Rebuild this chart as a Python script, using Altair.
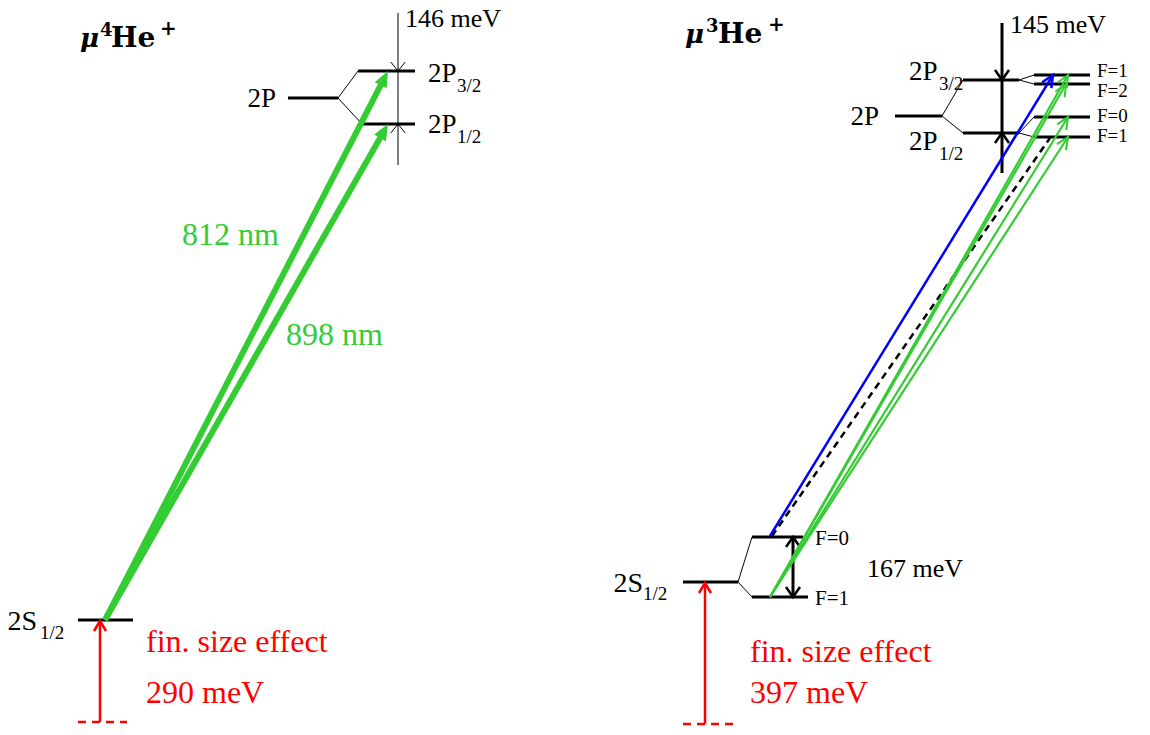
import math
import altair as alt
import pandas as pd

# ---------------- data (reference pixel coordinates: x right, y down) ----------------
# thick black energy levels (x1, y1, x2, y2)
levels = [
    (288, 98, 338, 98), (358, 71, 415, 71), (362, 124, 415, 124), (78, 620, 133, 620),
    (895, 116, 942, 116), (963, 80, 1019, 80), (963, 133, 1019, 133),
    (1034, 75, 1090, 75), (1034, 84, 1090, 84), (1034, 117, 1090, 117), (1034, 137, 1090, 137),
    (683, 582, 738, 582), (752, 537, 803, 537), (752, 597, 808, 597),
]
# thin black connector lines
thin_lines = [
    (338, 98, 358, 71), (338, 98, 362, 124), (398, 13, 398, 165),
    (942, 116, 963, 80), (942, 116, 963, 133),
    (1019, 80, 1034, 75), (1019, 80, 1034, 84), (1019, 133, 1034, 117), (1019, 133, 1034, 137),
    (738, 582, 752, 537), (738, 582, 752, 597),
]
# thick black interval lines
thick_lines = [(1002, 23, 1002, 173), (793, 537, 793, 597)]
# thin open arrowheads (from, to) for the 146 meV marker
thin_heads = [(398, 13, 398, 71), (398, 165, 398, 124)]
# thick open arrowheads for 145 meV and 167 meV
thick_heads = [(1002, 23, 1002, 80), (1002, 173, 1002, 133), (793, 567, 793, 537), (793, 567, 793, 597)]

green_left = [(105, 620, 388, 71), (105, 620, 388, 124)]
blue_right = [(770, 536, 1053, 75)]
green_right = [(770, 597, 1068, 75), (770, 597, 1066, 84), (770, 597, 1068, 117), (770, 597, 1068, 137)]
dashed_right = [(772, 536, 1050, 138)]
red_arrows = [(100, 722, 100, 621), (705, 724, 705, 583)]
red_dashes = [(78, 722, 127, 722), (683, 724, 733, 724)]

# texts: (x, baseline y, text, font size, colour)
texts_left_aligned = [
    (405, 27, "146 meV", 26, "black"),
    (428, 82, "2P", 27, "black"), (457, 92, "3/2", 19, "black"),
    (428, 133, "2P", 27, "black"), (457, 143, "1/2", 19, "black"),
    (40, 639, "1/2", 19, "black"),
    (182, 245, "812 nm", 32, "#33cc33"),
    (286, 345, "898 nm", 32, "#33cc33"),
    (146, 652, "fin. size effect", 32, "red"),
    (146, 703, "290 meV", 32, "red"),
    (1010, 33, "145 meV", 26, "black"),
    (909, 80, "2P", 27, "black"), (939, 90, "3/2", 19, "black"),
    (909, 150, "2P", 27, "black"), (939, 160, "1/2", 19, "black"),
    (1097, 77, "F=1", 19, "black"), (1097, 97, "F=2", 19, "black"),
    (1097, 122, "F=0", 19, "black"), (1097, 142, "F=1", 19, "black"),
    (815, 545, "F=0", 21, "black"), (815, 605, "F=1", 21, "black"),
    (867, 577, "167 meV", 26, "black"),
    (643, 600, "1/2", 19, "black"),
    (750, 662, "fin. size effect", 32, "red"),
    (750, 703, "397 meV", 32, "red"),
]
texts_right_aligned = [
    (276, 107, "2P", 27, "black"),
    (879, 125, "2P", 27, "black"),
    (37, 630, "2S", 28, "black"),
    (643, 592, "2S", 28, "black"),
]
title_bold = [
    (111, 47, "He", 28), (100, 36, "4", 18), (160, 35, "+", 20),
    (718, 43, "He", 28), (706, 32, "3", 18), (768, 31, "+", 20),
]
title_mu = [(80, 47, "μ", 26), (685, 43, "μ", 26)]

# ---------------- helpers ----------------
PAD = 8
X0, Y0 = 16, 16           # page position of the plot area's top-left corner
W, H = 1118, 703
xs = alt.Scale(domain=[X0, X0 + W], nice=False, zero=False)
ys = alt.Scale(domain=[Y0, Y0 + H], nice=False, zero=False, reverse=True)


def seg_df(rows, shorten=0.0):
    out = []
    for x1, y1, x2, y2 in rows:
        L = math.hypot(x2 - x1, y2 - y1)
        ex = x2 - (x2 - x1) / L * shorten
        ey = y2 - (y2 - y1) / L * shorten
        out.append({"x": x1, "y": y1, "x2": ex, "y2": ey})
    return pd.DataFrame(out)


def head_df(rows):
    out = []
    for x1, y1, x2, y2 in rows:
        ang = math.degrees(math.atan2(x2 - x1, -(y2 - y1))) % 360
        out.append({"x": x2, "y": y2, "angle": ang})
    return pd.DataFrame(out)


def rules(rows, color, width, dash=None, shorten=0.0):
    kw = dict(color=color, strokeWidth=width)
    if dash:
        kw["strokeDash"] = dash
    return alt.Chart(seg_df(rows, shorten)).mark_rule(**kw).encode(
        x=alt.X("x:Q", scale=xs, axis=None),
        y=alt.Y("y:Q", scale=ys, axis=None),
        x2="x2:Q", y2="y2:Q",
    )


FILLED = "M0,0 L-0.42,1 L0.42,1 Z"


def heads(rows, color, size, path, filled, width=1.0):
    if filled:
        mk = alt.Chart(head_df(rows)).mark_point(shape=path, size=size, filled=True, color=color,
                                                 opacity=1, strokeWidth=0)
    else:
        mk = alt.Chart(head_df(rows)).mark_point(shape=path, size=size, filled=False, color=color,
                                                 opacity=1, strokeWidth=width)
    return mk.encode(
        x=alt.X("x:Q", scale=xs, axis=None),
        y=alt.Y("y:Q", scale=ys, axis=None),
        angle=alt.Angle("angle:Q", scale=None),
    )


def texts(rows, align, font, weight="normal", style="normal"):
    df = pd.DataFrame([{"x": r[0], "y": r[1], "t": r[2], "s": r[3],
                        "c": r[4] if len(r) > 4 else "black"} for r in rows])
    return alt.Chart(df).mark_text(align=align, baseline="alphabetic", font=font,
                                   fontWeight=weight, fontStyle=style).encode(
        x=alt.X("x:Q", scale=xs, axis=None),
        y=alt.Y("y:Q", scale=ys, axis=None),
        text="t:N",
        size=alt.Size("s:Q", scale=None),
        color=alt.Color("c:N", scale=None),
    )


SERIF = "Liberation Serif"

layers = [
    rules(levels, "black", 3),
    rules(thin_lines, "black", 1),
    rules(thick_lines, "black", 3),
    heads(thin_heads, "black", 324, "M-0.8,1 L0,0 L0.8,1", False, 1),
    heads(thick_heads, "black", 400, "M-0.7,1 L0,0 L0.7,1", False, 2.5),
    rules(red_dashes, "red", 2.5, dash=[8, 6]),
    rules(red_arrows, "red", 2.5),
    heads(red_arrows, "red", 400, "M-0.6,1 L0,0 L0.6,1", False, 2.5),
    rules(green_left, "#33cc33", 6, shorten=12),
    heads(green_left, "#33cc33", 1024, FILLED, True),
    rules(dashed_right, "black", 2.5, dash=[7, 5]),
    rules(blue_right, "blue", 2.5),
    heads(blue_right, "blue", 576, "M-0.45,1 L0,0 L0.45,1", False, 2.5),
    rules(green_right, "#33cc33", 2.2),
    heads(green_right, "#33cc33", 576, "M-0.45,1 L0,0 L0.45,1", False, 2),
    texts(texts_left_aligned, "left", SERIF),
    texts(texts_right_aligned, "right", SERIF),
    texts(title_bold, "left", "DejaVu Serif", weight="bold"),
    texts(title_mu, "left", "DejaVu Serif", weight="bold", style="italic"),
]

chart = alt.layer(*layers).properties(
    width=W, height=H, padding=PAD, autosize=alt.AutoSizeParams(type="none")
).configure(background="white", view=alt.ViewConfig(stroke=None))

chart.save("out.html", embed_options={"renderer": "svg", "actions": False})
